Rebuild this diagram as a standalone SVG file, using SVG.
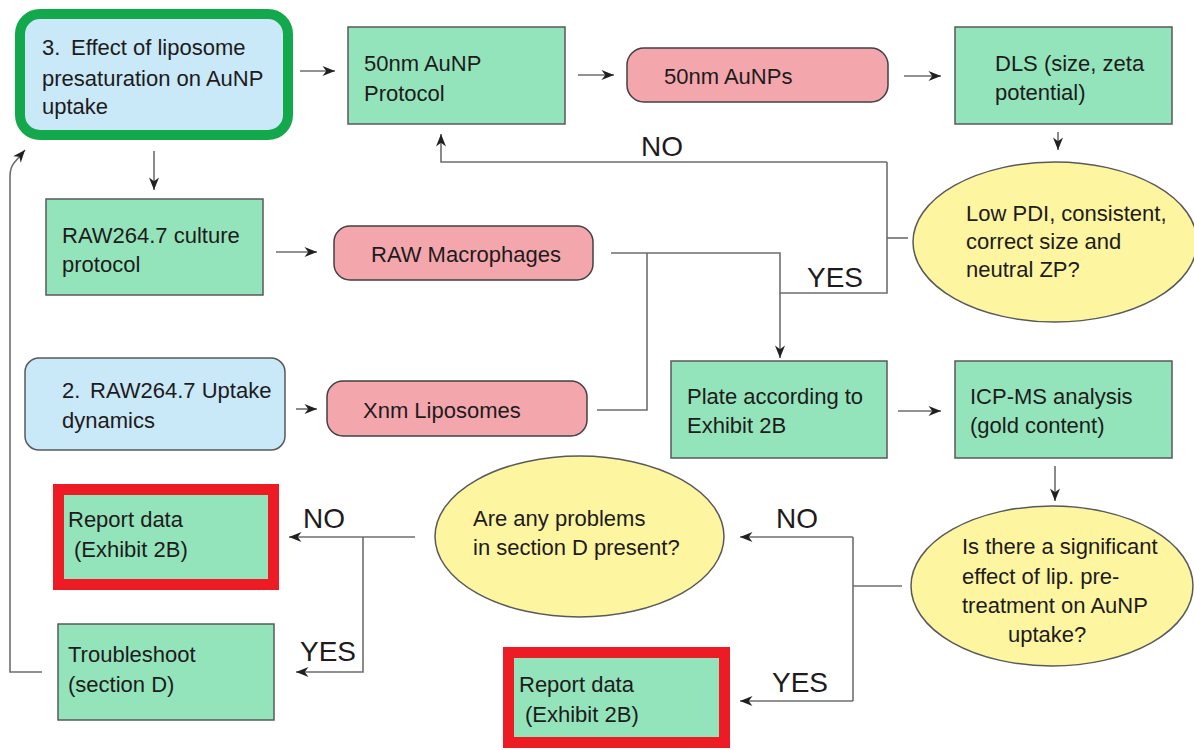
<svg xmlns="http://www.w3.org/2000/svg" width="1194" height="750" viewBox="0 0 1194 750">
  <style>
    text { font-family: "Liberation Sans", Arial, sans-serif; font-size: 22px; fill: #1e1b1c; }
    .lbl { font-size: 28px; }
    .proc { fill: #93e4bb; stroke: #58595b; stroke-width: 1.5; }
    .item { fill: #f4a6ad; stroke: #414042; stroke-width: 1.5; }
    .start { fill: #c9e8f8; stroke: #58595b; stroke-width: 1.5; }
    .ask { fill: #fdf5a0; stroke: #58595b; stroke-width: 1.5; }
    .report { fill: #93e4bb; stroke: #ed1c24; stroke-width: 11; }
    .wire { fill: none; stroke: #6d6e71; stroke-width: 1.6; }
    .arr { marker-end: url(#head); }
  </style>
  <defs>
    <marker id="head" viewBox="0 0 10 8" refX="10" refY="4" markerWidth="13" markerHeight="10" markerUnits="userSpaceOnUse" orient="auto">
      <path d="M0,0 L10,4 L0,8 L3,4 z" fill="#231f20"/>
    </marker>
  </defs>

  <!-- connectors -->
  <g id="connectors">
    <path class="wire arr" d="M300,71 H335"/>
    <path class="wire arr" d="M578,75 H614"/>
    <path class="wire arr" d="M904,76 H941"/>
    <path class="wire arr" d="M1058,132 V150"/>
    <path class="wire" d="M908,238 H887"/>
    <path class="wire" d="M887,162 V293 H780"/>
    <path class="wire arr" d="M887,162 H441 V134"/>
    <path class="wire arr" d="M154,151 V190"/>
    <path class="wire arr" d="M276,252 H317"/>
    <path class="wire arr" d="M296,409 H317"/>
    <path class="wire arr" d="M611,253 H780 V358"/>
    <path class="wire" d="M597,410 H647 V253"/>
    <path class="wire arr" d="M898,411 H941"/>
    <path class="wire arr" d="M1055,466 V501"/>
    <path class="wire" d="M902,586 H853"/>
    <path class="wire" d="M853,537 V701"/>
    <path class="wire arr" d="M853,537 H740"/>
    <path class="wire arr" d="M853,701 H740"/>
    <path class="wire arr" d="M415,537 H289"/>
    <path class="wire arr" d="M363,537 V672 H296"/>
    <path class="wire arr" d="M42,672 H10 V176 Q10,168 14,163 L25,150"/>
    <text class="lbl" x="641" y="156">NO</text>
    <text class="lbl" x="807" y="287">YES</text>
    <text class="lbl" x="303" y="528">NO</text>
    <text class="lbl" x="300" y="661">YES</text>
    <text class="lbl" x="776" y="528">NO</text>
    <text class="lbl" x="772" y="692">YES</text>
  </g>

  <g id="n-effect">
    <rect x="20" y="14" width="268" height="121" rx="20" fill="#c9e8f8" stroke="#13a84b" stroke-width="10"/>
    <text x="42" y="55">3.<tspan x="71">Effect of liposome</tspan></text>
    <text x="42" y="86">presaturation on AuNP</text>
    <text x="42" y="114">uptake</text>
  </g>

  <g id="n-aunp-protocol">
    <rect class="proc" x="348" y="27" width="217" height="97"/>
    <text x="364" y="71">50nm AuNP</text>
    <text x="364" y="101">Protocol</text>
  </g>

  <g id="n-aunps">
    <rect class="item" x="627" y="48" width="261" height="54" rx="17"/>
    <text x="664" y="84">50nm AuNPs</text>
  </g>

  <g id="n-dls">
    <rect class="proc" x="955" y="27" width="217" height="97"/>
    <text x="995" y="71">DLS (size, zeta</text>
    <text x="995" y="100">potential)</text>
  </g>

  <g id="n-pdi">
    <ellipse class="ask" cx="1055" cy="242" rx="142" ry="80"/>
    <text x="966" y="221">Low PDI, consistent,</text>
    <text x="966" y="249">correct size and</text>
    <text x="966" y="277">neutral ZP?</text>
  </g>

  <g id="n-culture">
    <rect class="proc" x="46" y="199" width="217" height="96"/>
    <text x="62" y="243">RAW264.7 culture</text>
    <text x="62" y="272">protocol</text>
  </g>

  <g id="n-macrophages">
    <rect class="item" x="334" y="226" width="259" height="54" rx="16"/>
    <text x="371" y="262">RAW Macrophages</text>
  </g>

  <g id="n-dynamics">
    <rect class="start" x="25" y="358" width="260" height="92" rx="14"/>
    <text x="62" y="398">2.<tspan x="90">RAW264.7 Uptake</tspan></text>
    <text x="62" y="428">dynamics</text>
  </g>

  <g id="n-liposomes">
    <rect class="item" x="327" y="381" width="260" height="55" rx="16"/>
    <text x="363" y="418">Xnm Liposomes</text>
  </g>

  <g id="n-plate">
    <rect class="proc" x="671" y="361" width="216" height="97"/>
    <text x="687" y="404">Plate according to</text>
    <text x="687" y="433">Exhibit 2B</text>
  </g>

  <g id="n-icpms">
    <rect class="proc" x="955" y="361" width="217" height="97"/>
    <text x="970" y="404">ICP-MS analysis</text>
    <text x="970" y="433">(gold content)</text>
  </g>

  <g id="n-effect-q">
    <ellipse class="ask" cx="1052" cy="586" rx="141" ry="80"/>
    <text x="962" y="554">Is there a significant</text>
    <text x="962" y="584">effect of lip. pre-</text>
    <text x="962" y="613">treatment on AuNP</text>
    <text x="1008" y="642">uptake?</text>
  </g>

  <g id="n-problems-q">
    <ellipse class="ask" cx="579.5" cy="536.5" rx="144.5" ry="80.5"/>
    <text x="473" y="526">Are any problems</text>
    <text x="473" y="555">in section D present?</text>
  </g>

  <g id="n-report-left">
    <rect class="report" x="58.5" y="489.5" width="215" height="95"/>
    <text x="68" y="527">Report data</text>
    <text x="74" y="557">(Exhibit 2B)</text>
  </g>

  <g id="n-troubleshoot">
    <rect class="proc" x="58" y="624" width="216" height="96"/>
    <text x="68" y="662">Troubleshoot</text>
    <text x="68" y="692">(section D)</text>
  </g>

  <g id="n-report-bottom">
    <rect class="report" x="508.5" y="652.5" width="216" height="90"/>
    <text x="519" y="692">Report data</text>
    <text x="525" y="722">(Exhibit 2B)</text>
  </g>
</svg>
